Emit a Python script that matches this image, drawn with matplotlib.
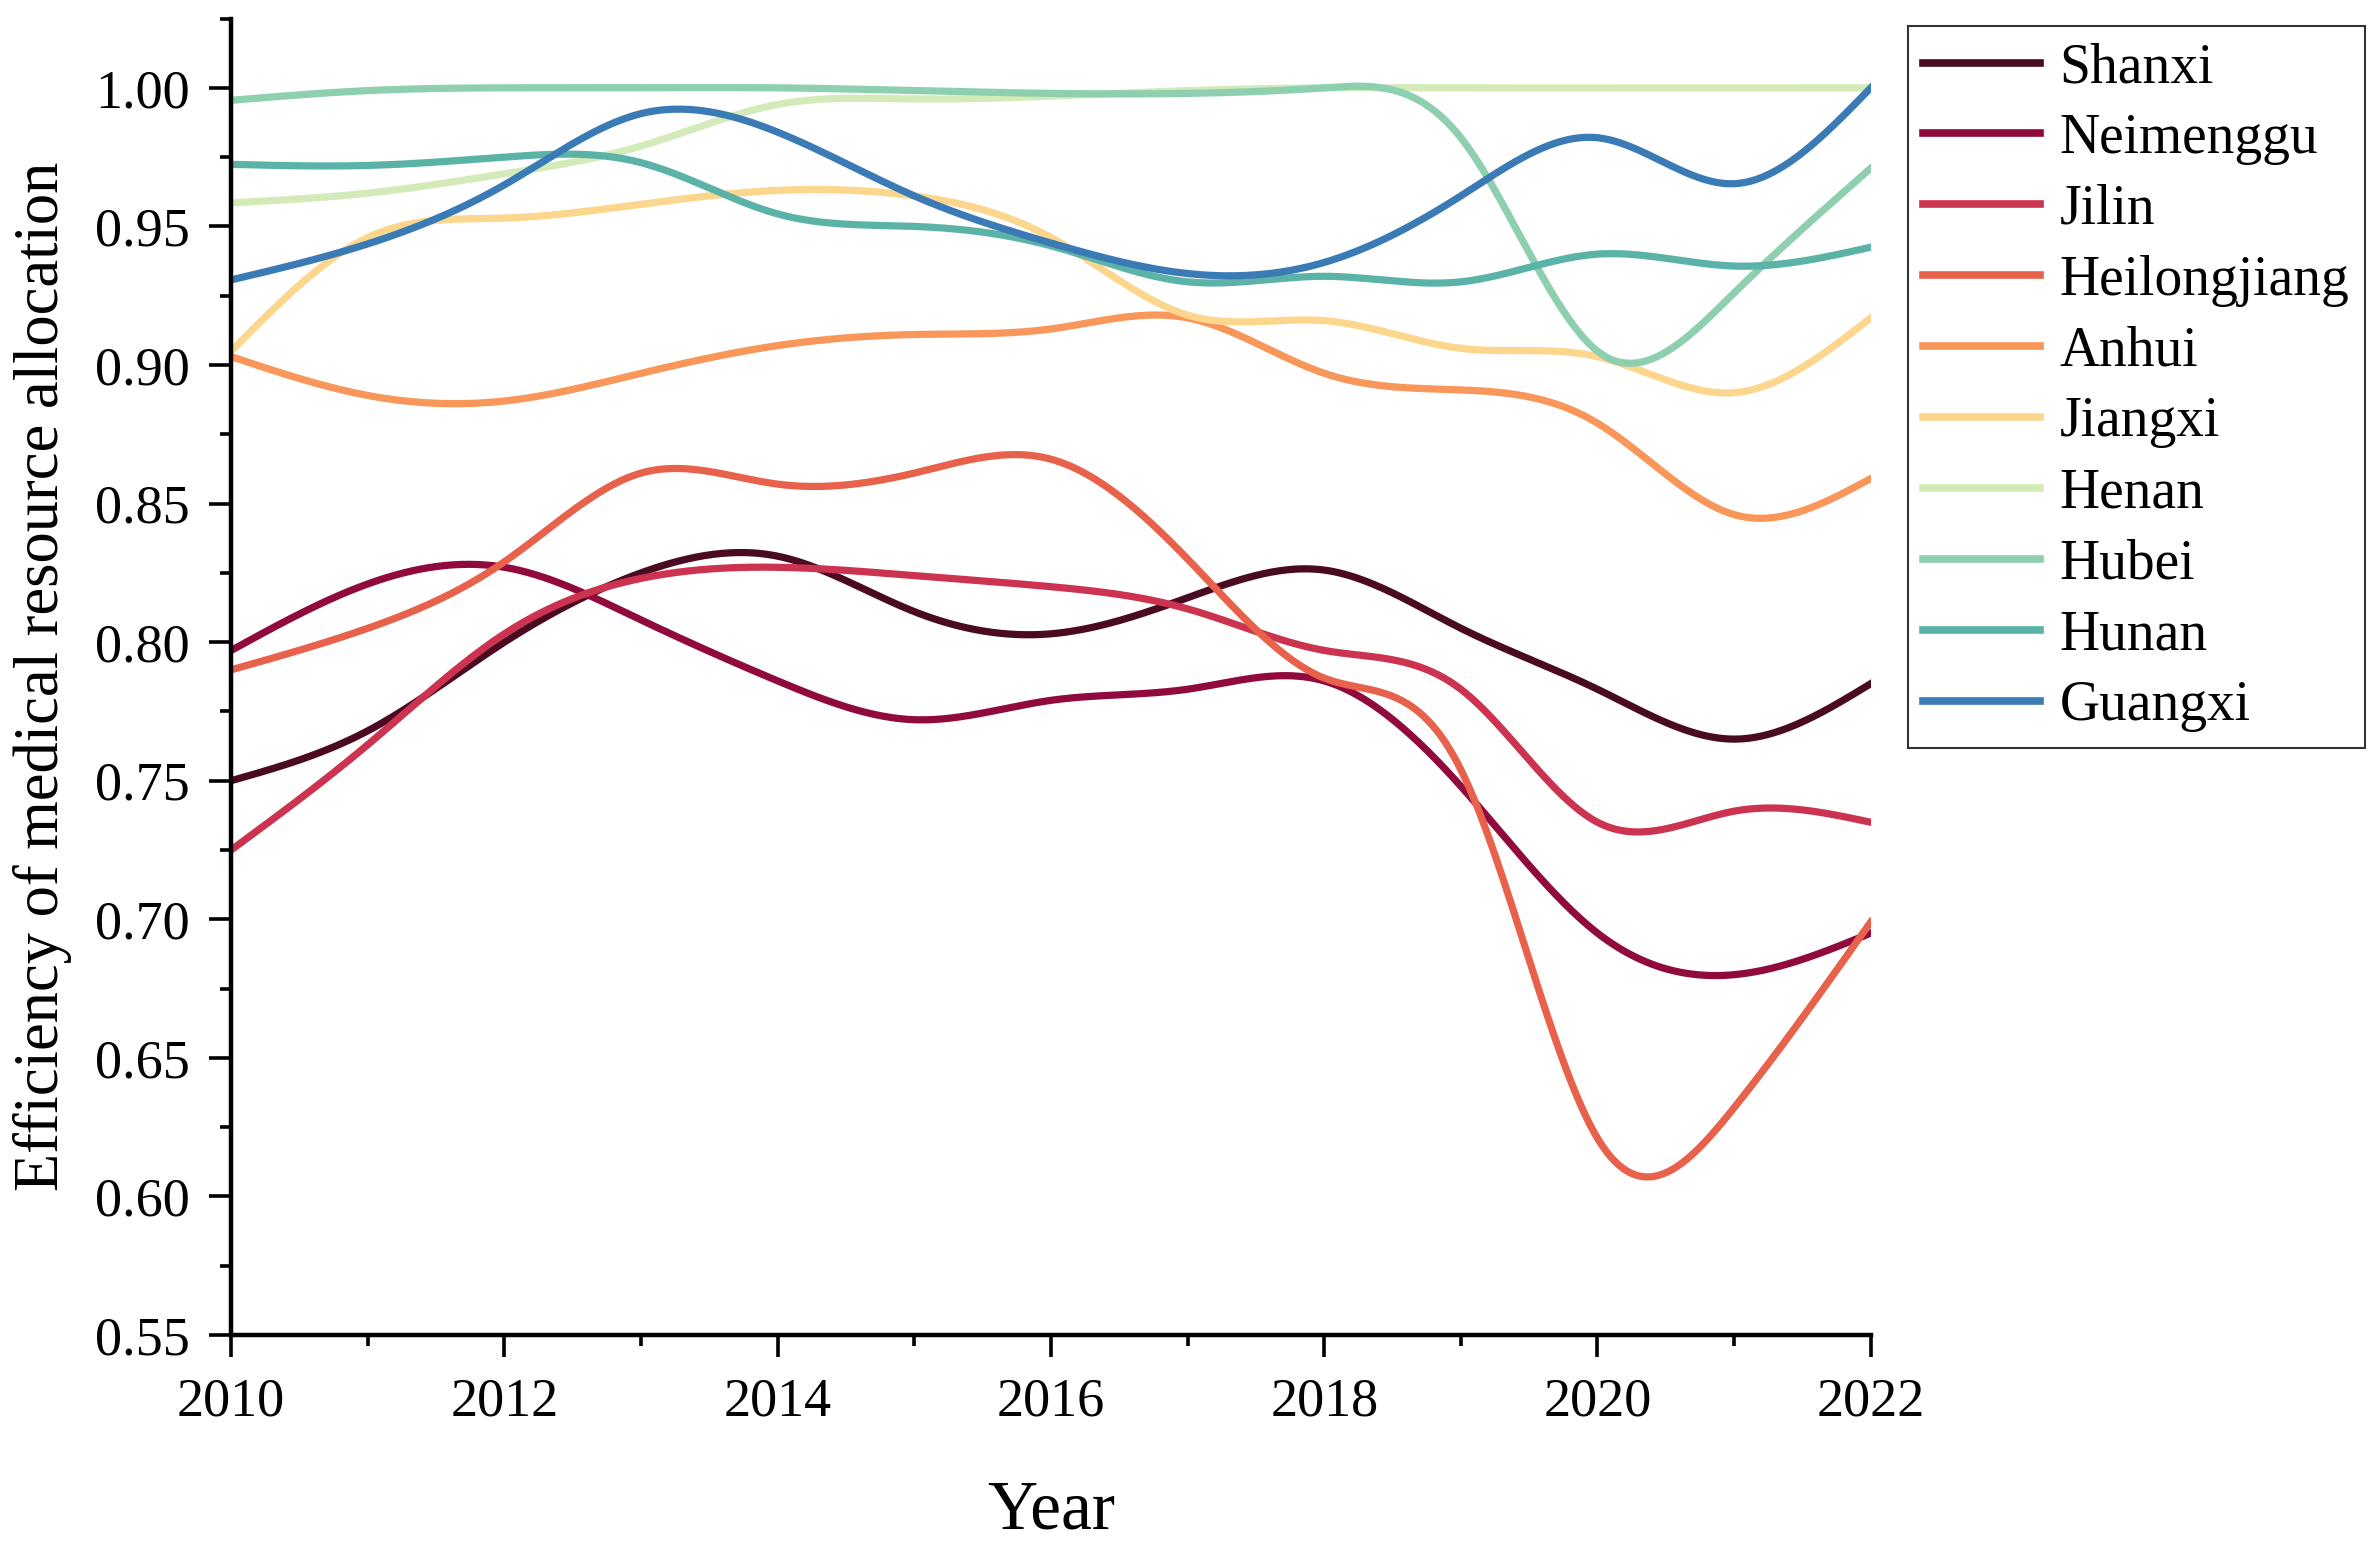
import numpy as np
import matplotlib
matplotlib.use('Agg')
import matplotlib.pyplot as plt
from matplotlib.ticker import MultipleLocator

plt.rcParams['font.family'] = ['Liberation Serif', 'DejaVu Serif']

years = np.arange(2010, 2023)

provinces = ['Shanxi', 'Neimenggu', 'Jilin', 'Heilongjiang', 'Anhui',
             'Jiangxi', 'Henan', 'Hubei', 'Hunan', 'Guangxi']

shanxi = [0.750, 0.768, 0.800, 0.825, 0.831, 0.811, 0.803, 0.816, 0.826, 0.805, 0.783, 0.765, 0.785]
neimenggu = [0.797, 0.821, 0.827, 0.808, 0.786, 0.772, 0.779, 0.783, 0.786, 0.748, 0.695, 0.680, 0.695]
jilin = [0.725, 0.763, 0.803, 0.823, 0.827, 0.824, 0.820, 0.812, 0.797, 0.783, 0.735, 0.739, 0.735]
heilongjiang = [0.790, 0.805, 0.829, 0.861, 0.857, 0.861, 0.866, 0.830, 0.787, 0.754, 0.621, 0.632, 0.699]
anhui = [0.903, 0.889, 0.887, 0.897, 0.907, 0.911, 0.913, 0.917, 0.897, 0.891, 0.879, 0.846, 0.859]
jiangxi = [0.905, 0.946, 0.953, 0.958, 0.963, 0.961, 0.946, 0.918, 0.916, 0.906, 0.903, 0.890, 0.917]
henan = [0.9585, 0.962, 0.969, 0.979, 0.994, 0.996, 0.997, 0.999, 1.0, 1.0, 1.0, 1.0, 1.0]
hubei = [0.9955, 0.999, 1.0, 1.0, 1.0, 0.999, 0.998, 0.998, 1.0, 0.982, 0.905, 0.926, 0.971]
hunan = [0.9724, 0.972, 0.975, 0.973, 0.9545, 0.950, 0.943, 0.930, 0.932, 0.930, 0.940, 0.9357, 0.9425]
guangxi = [0.9307, 0.9437, 0.965, 0.9907, 0.984, 0.961, 0.944, 0.933, 0.937, 0.961, 0.982, 0.9654, 1.0]

colors = ['#4a0a22', '#900a3e', '#cb3350', '#e8614b', '#f9965a',
          '#fdd68e', '#d4ebb9', '#8dcfae', '#5bb3a8', '#3a7bb6']

series = [shanxi, neimenggu, jilin, heilongjiang, anhui,
          jiangxi, henan, hubei, hunan, guangxi]


def natural_spline(x, y, n=600):
    # plain natural cubic spline, only used to draw smooth connecting lines
    x = np.asarray(x, float)
    y = np.asarray(y, float)
    k = len(x)
    h = np.diff(x)
    A = np.zeros((k, k))
    b = np.zeros(k)
    A[0, 0] = 1
    A[-1, -1] = 1
    for i in range(1, k - 1):
        A[i, i - 1] = h[i - 1]
        A[i, i] = 2 * (h[i - 1] + h[i])
        A[i, i + 1] = h[i]
        b[i] = 6 * ((y[i + 1] - y[i]) / h[i] - (y[i] - y[i - 1]) / h[i - 1])
    M = np.linalg.solve(A, b)
    xs = np.linspace(x[0], x[-1], n)
    idx = np.clip(np.searchsorted(x, xs) - 1, 0, k - 2)
    x0, x1 = x[idx], x[idx + 1]
    hh = x1 - x0
    t0 = x1 - xs
    t1 = xs - x0
    ys = (M[idx] * t0 ** 3 + M[idx + 1] * t1 ** 3) / (6 * hh) \
        + (y[idx] / hh - M[idx] * hh / 6) * t0 \
        + (y[idx + 1] / hh - M[idx + 1] * hh / 6) * t1
    return xs, ys


fig = plt.figure(figsize=(23.71, 15.46), dpi=100)
ax = fig.add_axes([0.0975, 0.1365, 0.6915, 0.8515])

for name, vals, c in zip(provinces, series, colors):
    xs, ys = natural_spline(years, vals)
    ax.plot(xs, ys, color=c, lw=5.2, label=name)

ax.set_xlim(2010, 2022)
ax.set_ylim(0.55, 1.025)
ax.xaxis.set_major_locator(MultipleLocator(2))
ax.xaxis.set_minor_locator(MultipleLocator(1))
ax.yaxis.set_major_locator(MultipleLocator(0.05))
ax.yaxis.set_minor_locator(MultipleLocator(0.025))
ax.yaxis.set_major_formatter(matplotlib.ticker.FormatStrFormatter('%.2f'))

ax.spines['top'].set_visible(False)
ax.spines['right'].set_visible(False)
for s in ['left', 'bottom']:
    ax.spines[s].set_linewidth(3.2)

ax.tick_params(which='major', direction='out', length=16, width=2.6, labelsize=39, pad=14)
ax.tick_params(which='minor', direction='out', length=8, width=2.6)

ax.set_xlabel('Year', fontsize=50, labelpad=38)
ax.set_ylabel('Efficiency of medical resource allocation', fontsize=45, labelpad=16)

leg = ax.legend(loc='upper left', bbox_to_anchor=(1.0226, 0.994), borderaxespad=0,
                fontsize=40, frameon=True, fancybox=False, edgecolor='black',
                handlelength=2.1, handletextpad=0.35, labelspacing=0.34,
                borderpad=0.28)
leg.get_frame().set_linewidth(1.5)
for line in leg.get_lines():
    line.set_linewidth(5.5)

fig.savefig('out.png', dpi=100)
